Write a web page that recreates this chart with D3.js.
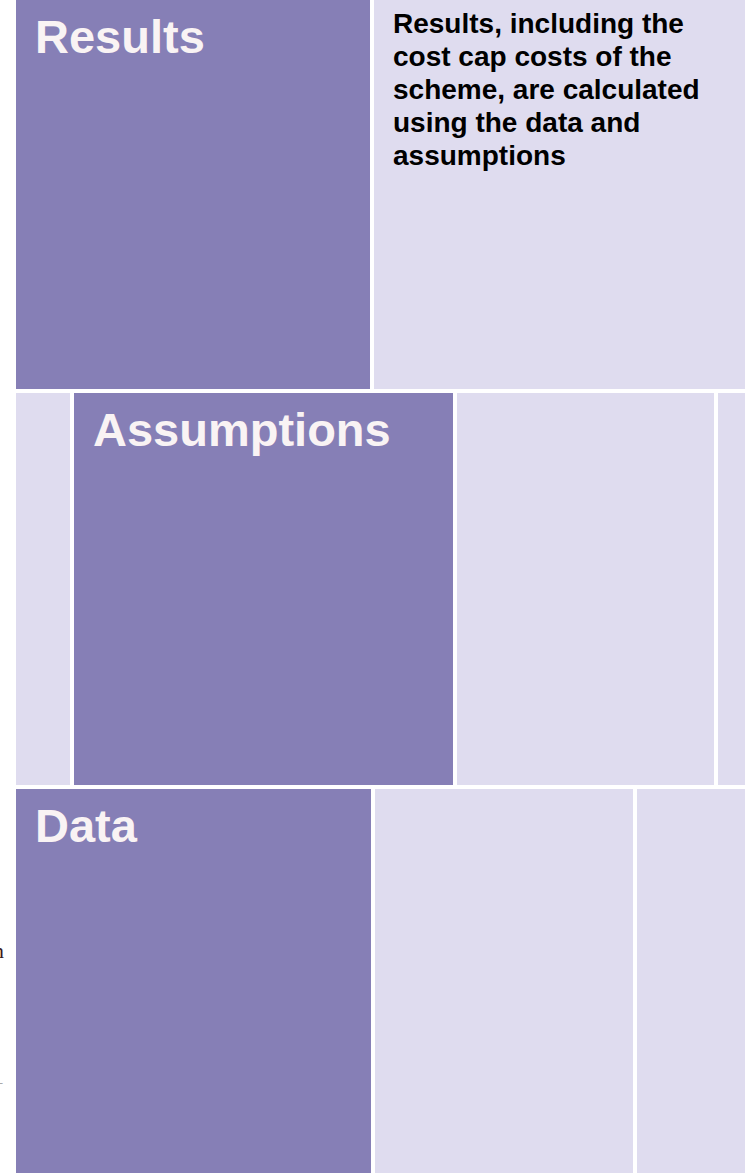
<!DOCTYPE html>
<html>
<head>
<meta charset="utf-8">
<script src="https://cdn.jsdelivr.net/npm/d3@7/dist/d3.min.js"></script>
<style>
  html, body { margin: 0; padding: 0; background: #fff; overflow: hidden; }
  svg { display: block; }
</style>
</head>
<body>
<script>
// rows of the block diagram, top to bottom
var rowNames = ['Results', 'Assumptions', 'Data'];
var rowSizes = [393, 396, 395];
// relative cell widths in each row, and which cell is the highlighted one
var rowCells = [[358, 371], [58, 383, 261, 27], [359, 262, 108]];
var darkCell = [0, 1, 0];
var descLines = ['Results, including the', 'cost cap costs of the', 'scheme, are calculated', 'using the data and', 'assumptions'];

var w = 748, h = 1173;
var gap = 4;
var dark = '#867fb6', light = '#dfdcef';

var svg = d3.select('body')
  .append('svg')
  .attr('width', w)
  .attr('height', h);

var yScale = d3.scaleLinear()
  .domain([0, d3.sum(rowSizes)])
  .range([0, d3.sum(rowSizes)]);
var rowTops = d3.cumsum([0].concat(rowSizes));

rowNames.forEach((name, r) => {
  var cells = rowCells[r];
  var xScale = d3.scaleLinear()
    .domain([0, d3.sum(cells)])
    .range([16, 745]);
  var starts = d3.cumsum([0].concat(cells));
  var y0 = yScale(rowTops[r]);
  var y1 = yScale(rowTops[r + 1]) - gap;

  var g = svg.append('g').attr('class', 'row');

  g.selectAll('rect')
    .data(cells)
    .enter()
    .append('rect')
      .attr('x', (d, i) => xScale(starts[i]))
      .attr('y', y0)
      .attr('width', (d, i) => xScale(starts[i + 1]) - xScale(starts[i]) - (i < cells.length - 1 ? gap : 0))
      .attr('height', y1 - y0)
      .attr('fill', (d, i) => i === darkCell[r] ? dark : light);

  g.append('text')
    .attr('x', xScale(starts[darkCell[r]]) + 19)
    .attr('y', y0 + 53)
    .attr('fill', '#f9f3f4')
    .style('font-family', '"Liberation Sans", Arial, sans-serif')
    .style('font-weight', 'bold')
    .style('font-size', '47px')
    .text(name);

  if (r === 0) {
    var desc = g.append('text')
      .attr('x', xScale(starts[1]) + 19)
      .attr('y', y0 + 33)
      .attr('fill', '#000')
      .style('font-family', '"Liberation Sans", Arial, sans-serif')
      .style('font-weight', 'bold')
      .style('font-size', '28px');
    desc.selectAll('tspan')
      .data(descLines)
      .enter()
      .append('tspan')
        .attr('x', xScale(starts[1]) + 19)
        .attr('dy', (d, i) => i === 0 ? 0 : 33)
        .text(d => d);
  }
});

// stray bits of cut off text on the left edge, as in the source slide
svg.append('text')
  .attr('x', 4)
  .attr('y', 958)
  .attr('text-anchor', 'end')
  .attr('fill', '#3a1a1a')
  .style('font-family', '"Liberation Serif", serif')
  .style('font-size', '22px')
  .text('n');
svg.append('text')
  .attr('x', 3)
  .attr('y', 1087)
  .attr('text-anchor', 'end')
  .attr('fill', '#aaa')
  .style('font-family', '"Liberation Serif", serif')
  .style('font-size', '12px')
  .text('-');
</script>
</body>
</html>
